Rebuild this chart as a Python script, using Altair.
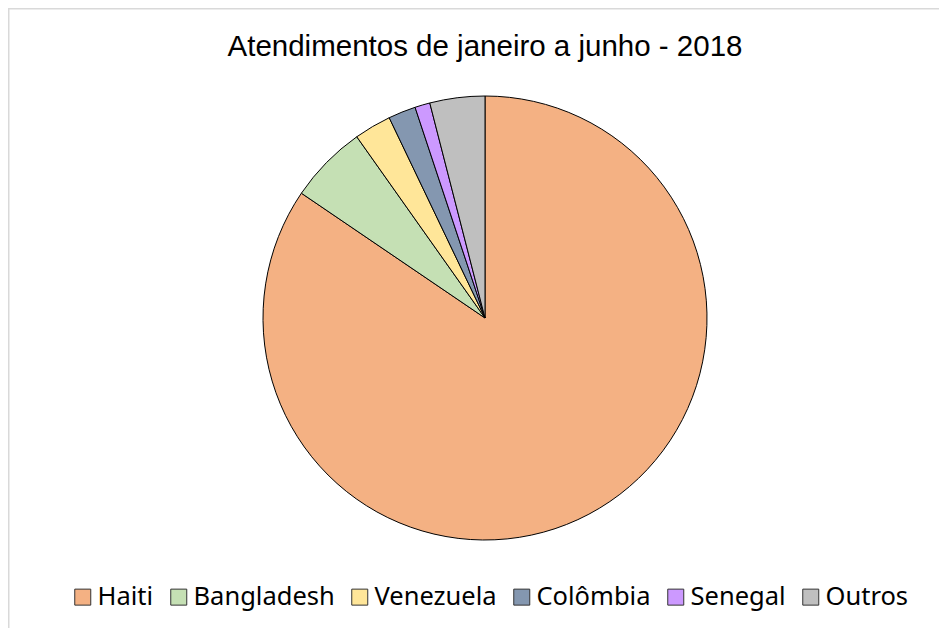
import altair as alt
import pandas as pd

paises = ["Haiti", "Bangladesh", "Venezuela", "Colômbia", "Senegal", "Outros"]
percentuais = [84.5, 5.7, 2.7, 2.0, 1.1, 4.0]
cores = ["#F4B183", "#C5E0B4", "#FFE699", "#8497B0", "#CC99FF", "#BFBFBF"]
titulo = "Atendimentos de janeiro a junho - 2018"

df = pd.DataFrame({"pais": paises, "valor": percentuais, "ordem": list(range(len(paises)))})

W, H = 931, 620

pie = alt.Chart(df).mark_arc(radius=222, stroke="black", strokeWidth=1).encode(
    theta=alt.Theta("valor:Q", stack=True),
    order=alt.Order("ordem:Q"),
    color=alt.Color(
        "pais:N",
        sort=paises,
        scale=alt.Scale(domain=paises, range=cores),
        legend=alt.Legend(
            title=None, orient="none", direction="horizontal", columns=6,
            legendX=62, legendY=576,
            symbolType="square", symbolSize=256, symbolStrokeColor="#333333",
            symbolStrokeWidth=1, symbolOpacity=1,
            labelFont="Noto Sans", labelFontSize=25.5, labelColor="black",
            labelOffset=2, columnPadding=12, labelLimit=300,
        ),
    ),
    x=alt.value(477), y=alt.value(310),
)

titulo_df = pd.DataFrame({"t": [titulo]})
title_text = alt.Chart(titulo_df).mark_text(
    font="Liberation Sans", fontSize=29.5, color="black", align="center", baseline="alphabetic"
).encode(text="t:N", x=alt.value(477), y=alt.value(48))

borda_df = pd.DataFrame({"b": [0]})
top_line = alt.Chart(borda_df).mark_rule(color="#D9D9D9", strokeWidth=1.5).encode(
    x=alt.value(0), x2=alt.value(W), y=alt.value(0.75)
)
left_line = alt.Chart(borda_df).mark_rule(color="#D9D9D9", strokeWidth=1.5).encode(
    x=alt.value(0.75), y=alt.value(0), y2=alt.value(H)
)

chart = alt.layer(top_line, left_line, pie, title_text).properties(
    width=W, height=H, autosize="none", padding=0
).configure_view(stroke=None)

chart.save("out.html", embed_options={"renderer": "svg", "actions": False})
